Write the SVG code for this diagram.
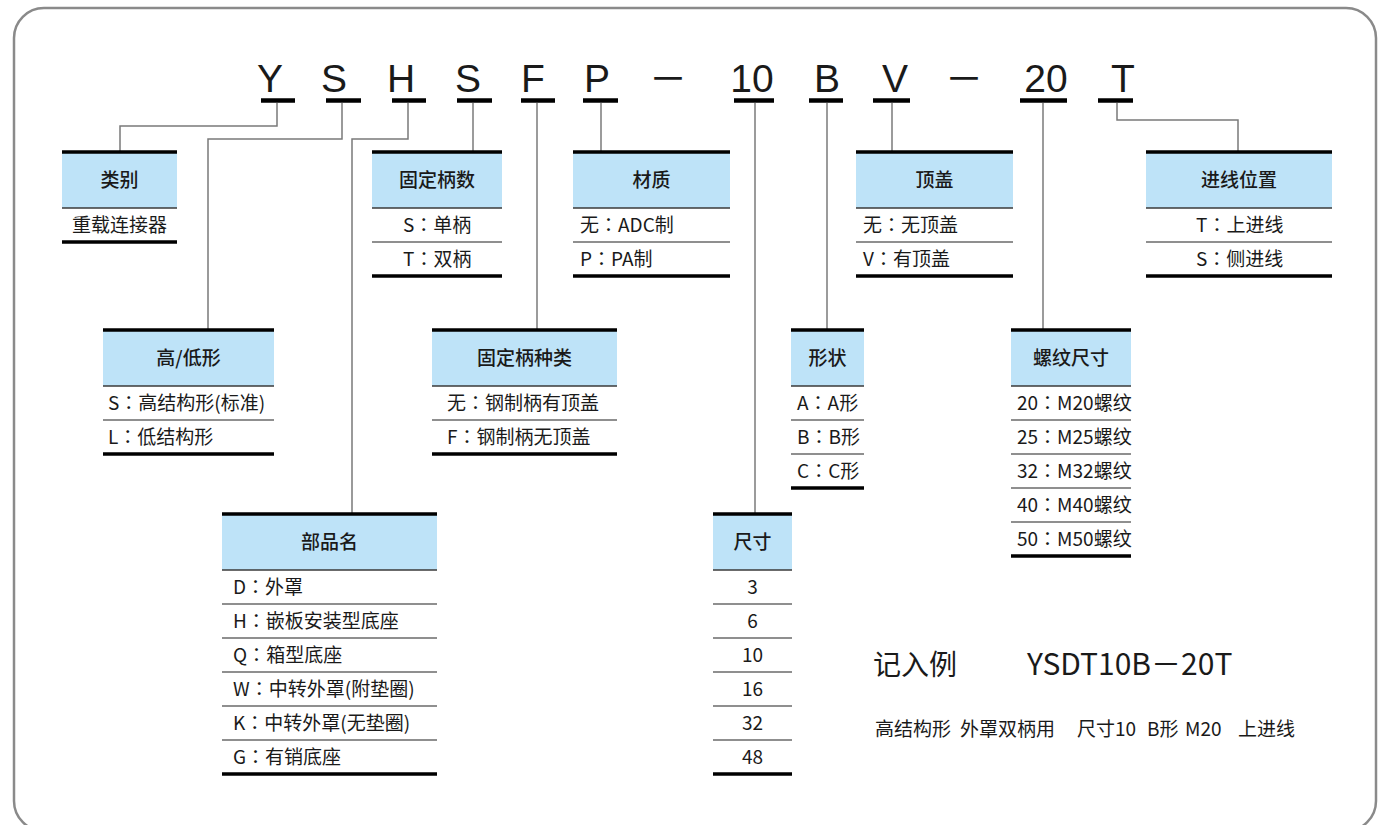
<svg xmlns="http://www.w3.org/2000/svg" width="1391" height="825" viewBox="0 0 1391 825">
<style>
text{font-family:"Noto Sans CJK SC","Noto Sans",sans-serif;fill:#1a1a1a}
.code{font-family:"Liberation Sans",Arial,sans-serif;font-size:39px;text-anchor:middle}
.dash{font-family:"Noto Sans CJK SC",sans-serif;font-size:38px;text-anchor:middle}
.h{font-size:19px;font-weight:500;text-anchor:middle}
.r{font-size:19px}
.c{text-anchor:middle}
.k{font-family:"Noto Sans CJK JP",sans-serif}
.fill{fill:#BEE3F8}
.thick{stroke:#000;stroke-width:3.5}
.mid{stroke:#3a3a3a;stroke-width:1.5}
.sep{stroke:#6a6a6a;stroke-width:1.5}
.bar{stroke:#000;stroke-width:4.5}
.conn{stroke:#7a7a7a;stroke-width:1.5;fill:none}
</style>
<rect x="14" y="8" width="1362" height="823" rx="30" fill="none" stroke="#8a8a8a" stroke-width="2.5"/>

<g id="code">
<text class="code" x="270" y="92">Y</text>
<text class="code" x="334" y="92">S</text>
<text class="code" x="401" y="92">H</text>
<text class="code" x="468" y="92">S</text>
<text class="code" x="533" y="92">F</text>
<text class="code" x="597" y="92">P</text>
<text class="dash" x="668" y="92">－</text>
<text class="code" x="752" y="92">10</text>
<text class="code" x="827" y="92">B</text>
<text class="code" x="895" y="92">V</text>
<text class="dash" x="964" y="92">－</text>
<text class="code" x="1046" y="92">20</text>
<text class="code" x="1123" y="92">T</text>
<line class="bar" x1="261" y1="100.5" x2="295" y2="100.5"/>
<line class="bar" x1="326" y1="100.5" x2="361" y2="100.5"/>
<line class="bar" x1="392" y1="100.5" x2="426" y2="100.5"/>
<line class="bar" x1="457" y1="100.5" x2="492" y2="100.5"/>
<line class="bar" x1="521" y1="100.5" x2="555" y2="100.5"/>
<line class="bar" x1="583" y1="100.5" x2="618" y2="100.5"/>
<line class="bar" x1="734" y1="100.5" x2="774" y2="100.5"/>
<line class="bar" x1="809" y1="100.5" x2="843" y2="100.5"/>
<line class="bar" x1="873" y1="100.5" x2="910" y2="100.5"/>
<line class="bar" x1="1020" y1="100.5" x2="1067" y2="100.5"/>
<line class="bar" x1="1098" y1="100.5" x2="1133" y2="100.5"/>
</g>

<g id="connectors">
<path class="conn" d="M277 103 V126 H120 V152"/>
<path class="conn" d="M342 103 V139 H208 V330"/>
<path class="conn" d="M408 103 V139 H352 V514"/>
<path class="conn" d="M473 103 V152"/>
<path class="conn" d="M537 103 V330"/>
<path class="conn" d="M601 103 V152"/>
<path class="conn" d="M755 103 V514"/>
<path class="conn" d="M827 103 V330"/>
<path class="conn" d="M892 103 V152"/>
<path class="conn" d="M1043 103 V330"/>
<path class="conn" d="M1117 103 V120 H1238 V152"/>
</g>

<g id="node-leibie">
<rect class="fill" x="62" y="152" width="115" height="56"/>
<line class="thick" x1="62" y1="152" x2="177" y2="152"/>
<line class="mid" x1="62" y1="208" x2="177" y2="208"/>
<line class="thick" x1="62" y1="242" x2="177" y2="242"/>
<text class="h" x="119.5" y="187">类别</text>
<text class="r c" x="119.5" y="232">重载连接器</text>
</g>

<g id="node-gudingbingshu">
<rect class="fill" x="372" y="152" width="130" height="56"/>
<line class="thick" x1="372" y1="152" x2="502" y2="152"/>
<line class="mid" x1="372" y1="208" x2="502" y2="208"/>
<line class="sep" x1="372" y1="242" x2="502" y2="242"/>
<line class="thick" x1="372" y1="276" x2="502" y2="276"/>
<text class="h" x="437" y="187">固定柄数</text>
<text class="r" x="403" y="232">S<tspan class="k">：</tspan>单柄</text>
<text class="r" x="403" y="266">T<tspan class="k">：</tspan>双柄</text>
</g>

<g id="node-caizhi">
<rect class="fill" x="573" y="152" width="157" height="56"/>
<line class="thick" x1="573" y1="152" x2="730" y2="152"/>
<line class="mid" x1="573" y1="208" x2="730" y2="208"/>
<line class="sep" x1="573" y1="242" x2="730" y2="242"/>
<line class="thick" x1="573" y1="276" x2="730" y2="276"/>
<text class="h" x="651.5" y="187">材质</text>
<text class="r" x="580" y="232">无<tspan class="k">：</tspan>ADC制</text>
<text class="r" x="580" y="266">P<tspan class="k">：</tspan>PA制</text>
</g>

<g id="node-dinggai">
<rect class="fill" x="856" y="152" width="157" height="56"/>
<line class="thick" x1="856" y1="152" x2="1013" y2="152"/>
<line class="mid" x1="856" y1="208" x2="1013" y2="208"/>
<line class="sep" x1="856" y1="242" x2="1013" y2="242"/>
<line class="thick" x1="856" y1="276" x2="1013" y2="276"/>
<text class="h" x="934.5" y="187">顶盖</text>
<text class="r" x="863" y="232">无<tspan class="k">：</tspan>无顶盖</text>
<text class="r" x="863" y="266">V<tspan class="k">：</tspan>有顶盖</text>
</g>

<g id="node-jinxianweizhi">
<rect class="fill" x="1146" y="152" width="186" height="56"/>
<line class="thick" x1="1146" y1="152" x2="1332" y2="152"/>
<line class="mid" x1="1146" y1="208" x2="1332" y2="208"/>
<line class="sep" x1="1146" y1="242" x2="1332" y2="242"/>
<line class="thick" x1="1146" y1="276" x2="1332" y2="276"/>
<text class="h" x="1239" y="187">进线位置</text>
<text class="r" x="1196" y="232">T<tspan class="k">：</tspan>上进线</text>
<text class="r" x="1196" y="266">S<tspan class="k">：</tspan>侧进线</text>
</g>

<g id="node-gaodixing">
<rect class="fill" x="103" y="330" width="171" height="56"/>
<line class="thick" x1="103" y1="330" x2="274" y2="330"/>
<line class="mid" x1="103" y1="386" x2="274" y2="386"/>
<line class="sep" x1="103" y1="420" x2="274" y2="420"/>
<line class="thick" x1="103" y1="454" x2="274" y2="454"/>
<text class="h" x="188.5" y="365">高/低形</text>
<text class="r" x="108" y="410">S<tspan class="k">：</tspan>高结构形(标准)</text>
<text class="r" x="108" y="444">L<tspan class="k">：</tspan>低结构形</text>
</g>

<g id="node-gudingbingzhonglei">
<rect class="fill" x="432" y="330" width="185" height="56"/>
<line class="thick" x1="432" y1="330" x2="617" y2="330"/>
<line class="mid" x1="432" y1="386" x2="617" y2="386"/>
<line class="sep" x1="432" y1="420" x2="617" y2="420"/>
<line class="thick" x1="432" y1="454" x2="617" y2="454"/>
<text class="h" x="524.5" y="365">固定柄种类</text>
<text class="r" x="447" y="410">无<tspan class="k">：</tspan>钢制柄有顶盖</text>
<text class="r" x="447" y="444">F<tspan class="k">：</tspan>钢制柄无顶盖</text>
</g>

<g id="node-xingzhuang">
<rect class="fill" x="791" y="330" width="73" height="56"/>
<line class="thick" x1="791" y1="330" x2="864" y2="330"/>
<line class="mid" x1="791" y1="386" x2="864" y2="386"/>
<line class="sep" x1="791" y1="420" x2="864" y2="420"/>
<line class="sep" x1="791" y1="454" x2="864" y2="454"/>
<line class="thick" x1="791" y1="488" x2="864" y2="488"/>
<text class="h" x="827.5" y="365">形状</text>
<text class="r" x="797" y="410">A<tspan class="k">：</tspan>A形</text>
<text class="r" x="797" y="444">B<tspan class="k">：</tspan>B形</text>
<text class="r" x="797" y="478">C<tspan class="k">：</tspan>C形</text>
</g>

<g id="node-luowenchicun">
<rect class="fill" x="1011" y="330" width="120" height="56"/>
<line class="thick" x1="1011" y1="330" x2="1131" y2="330"/>
<line class="mid" x1="1011" y1="386" x2="1131" y2="386"/>
<line class="sep" x1="1011" y1="420" x2="1131" y2="420"/>
<line class="sep" x1="1011" y1="454" x2="1131" y2="454"/>
<line class="sep" x1="1011" y1="488" x2="1131" y2="488"/>
<line class="sep" x1="1011" y1="522" x2="1131" y2="522"/>
<line class="thick" x1="1011" y1="556" x2="1131" y2="556"/>
<text class="h" x="1071" y="365">螺纹尺寸</text>
<text class="r" x="1017" y="410">20<tspan class="k">：</tspan>M20螺纹</text>
<text class="r" x="1017" y="444">25<tspan class="k">：</tspan>M25螺纹</text>
<text class="r" x="1017" y="478">32<tspan class="k">：</tspan>M32螺纹</text>
<text class="r" x="1017" y="512">40<tspan class="k">：</tspan>M40螺纹</text>
<text class="r" x="1017" y="546">50<tspan class="k">：</tspan>M50螺纹</text>
</g>

<g id="node-bupinming">
<rect class="fill" x="222" y="514" width="215" height="56"/>
<line class="thick" x1="222" y1="514" x2="437" y2="514"/>
<line class="mid" x1="222" y1="570" x2="437" y2="570"/>
<line class="sep" x1="222" y1="604" x2="437" y2="604"/>
<line class="sep" x1="222" y1="638" x2="437" y2="638"/>
<line class="sep" x1="222" y1="672" x2="437" y2="672"/>
<line class="sep" x1="222" y1="706" x2="437" y2="706"/>
<line class="sep" x1="222" y1="740" x2="437" y2="740"/>
<line class="thick" x1="222" y1="774" x2="437" y2="774"/>
<text class="h" x="329.5" y="549">部品名</text>
<text class="r" x="233" y="594">D<tspan class="k">：</tspan>外罩</text>
<text class="r" x="233" y="628">H<tspan class="k">：</tspan>嵌板安装型底座</text>
<text class="r" x="233" y="662">Q<tspan class="k">：</tspan>箱型底座</text>
<text class="r" x="233" y="696">W<tspan class="k">：</tspan>中转外罩(附垫圈)</text>
<text class="r" x="233" y="730">K<tspan class="k">：</tspan>中转外罩(无垫圈)</text>
<text class="r" x="233" y="764">G<tspan class="k">：</tspan>有销底座</text>
</g>

<g id="node-chicun">
<rect class="fill" x="713" y="514" width="79" height="56"/>
<line class="thick" x1="713" y1="514" x2="792" y2="514"/>
<line class="mid" x1="713" y1="570" x2="792" y2="570"/>
<line class="sep" x1="713" y1="604" x2="792" y2="604"/>
<line class="sep" x1="713" y1="638" x2="792" y2="638"/>
<line class="sep" x1="713" y1="672" x2="792" y2="672"/>
<line class="sep" x1="713" y1="706" x2="792" y2="706"/>
<line class="sep" x1="713" y1="740" x2="792" y2="740"/>
<line class="thick" x1="713" y1="774" x2="792" y2="774"/>
<text class="h" x="752.5" y="549">尺寸</text>
<text class="r c" x="752.5" y="594">3</text>
<text class="r c" x="752.5" y="628">6</text>
<text class="r c" x="752.5" y="662">10</text>
<text class="r c" x="752.5" y="696">16</text>
<text class="r c" x="752.5" y="730">32</text>
<text class="r c" x="752.5" y="764">48</text>
</g>

<g id="example">
<text x="873" y="675" font-size="28">记入例</text>
<text x="1027" y="675" font-size="30" font-family="Liberation Sans, Noto Sans CJK SC, sans-serif">YSDT10B－20T</text>
<text y="736" font-size="19"><tspan x="875">高结构形</tspan><tspan x="960">外罩双柄用</tspan><tspan x="1077">尺寸10</tspan><tspan x="1147">B形</tspan><tspan x="1185">M20</tspan><tspan x="1238">上进线</tspan></text>
</g>
</svg>
